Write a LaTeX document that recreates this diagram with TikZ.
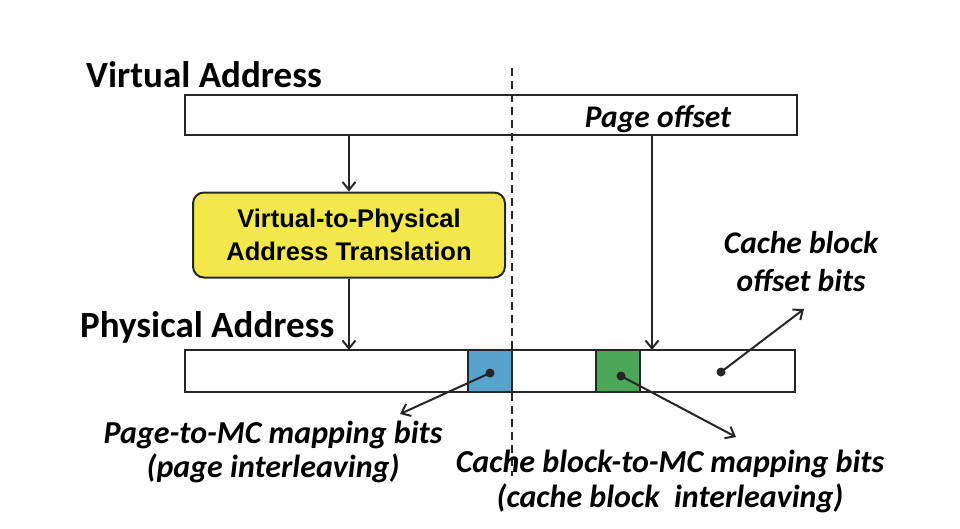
\documentclass[tikz,border=0pt]{standalone}
\usepackage{fontspec}
\setmainfont{Carlito}
\newfontfamily\arialfont{Liberation Sans}
\usetikzlibrary{arrows.meta}
\definecolor{boxyellow}{RGB}{242,232,76}
\definecolor{bitblue}{RGB}{88,163,206}
\definecolor{bitgreen}{RGB}{76,166,88}
\begin{document}
\begin{tikzpicture}[x=1pt,y=-1pt,
  bar/.style={draw=black!85, line width=2pt, fill=white},
  arr/.style={draw=black!85, line width=2pt, -{Straight Barb[length=8pt, width=13pt, line width=2pt]}},
  bigtitle/.style={font=\bfseries\fontsize{37}{40}\selectfont, anchor=base west, inner sep=0pt},
  lab/.style={font=\bfseries\itshape\fontsize{31.5}{36}\selectfont, align=center, inner sep=0pt, anchor=base},
  dot/.style={circle, fill=black!85, inner sep=0pt, minimum size=9pt}]
\useasboundingbox (0,0) rectangle (960,528);
% titles
\node[bigtitle] (vat) at (86,87) {Virtual Address};
\node[bigtitle] (pat) at (80,337) {Physical Address};
% virtual bar
\draw[bar] (185,95) rectangle (797,135);
\coordinate (vaL) at (349,135);
\coordinate (vaR) at (652,135);
\node[font=\bfseries\itshape\fontsize{31.5}{36}\selectfont, inner sep=0pt, anchor=base] (po) at (658,127) {Page offset};
% translation box
\node[draw=black!85, line width=2pt, fill=boxyellow, rounded corners=11pt,
      minimum width=312pt, minimum height=85pt, align=center,
      font=\arialfont\bfseries\fontsize{25.5}{33}\selectfont] (tr) at (349,235)
      {Virtual-to-Physical\\Address Translation};
% physical bar
\draw[bar] (185,350) rectangle (795,392);
\node[draw=black!85, line width=2pt, fill=bitblue, minimum width=44pt, minimum height=42pt, inner sep=0pt] (pb) at (490,371) {};
\node[draw=black!85, line width=2pt, fill=bitgreen, minimum width=44pt, minimum height=42pt, inner sep=0pt] (cb) at (618,371) {};
\coordinate (paL) at (349,350);
\coordinate (paR) at (652,350);
% dashed divider
\coordinate (dtop) at (512,68);
\coordinate (dbot) at (512,476);
\draw[black!85, line width=1.8pt, dash pattern=on 8pt off 5pt] (dtop) -- (dbot);
% arrows
\draw[arr] (vaL) -- (tr.north);
\draw[arr] (tr.south) -- (paL);
\draw[arr] (vaR) -- (paR);
% dots
\node[dot] (d1) at (490,373) {};
\node[dot] (d2) at (621,376) {};
\node[dot] (d3) at (721,372) {};
\coordinate (e1) at (400,414);
\coordinate (e2) at (736,437);
\coordinate (e3) at (804,309);
\draw[arr] (d1.center) -- (e1);
\draw[arr] (d2.center) -- (e2);
\draw[arr] (d3.center) -- (e3);
% labels
\node[lab, font=\bfseries\itshape\fontsize{31.5}{38}\selectfont] (l3) at (801,291) {Cache block\\offset bits};
\node[lab, font=\bfseries\itshape\fontsize{32}{34}\selectfont] (l1) at (273,477) {Page-to-MC mapping bits\\(page interleaving)};
\node[lab, font=\bfseries\itshape\fontsize{32}{35}\selectfont] (l2) at (670,507) {Cache block-to-MC mapping bits\\(cache block\ \ interleaving)};
\end{tikzpicture}
\end{document}
